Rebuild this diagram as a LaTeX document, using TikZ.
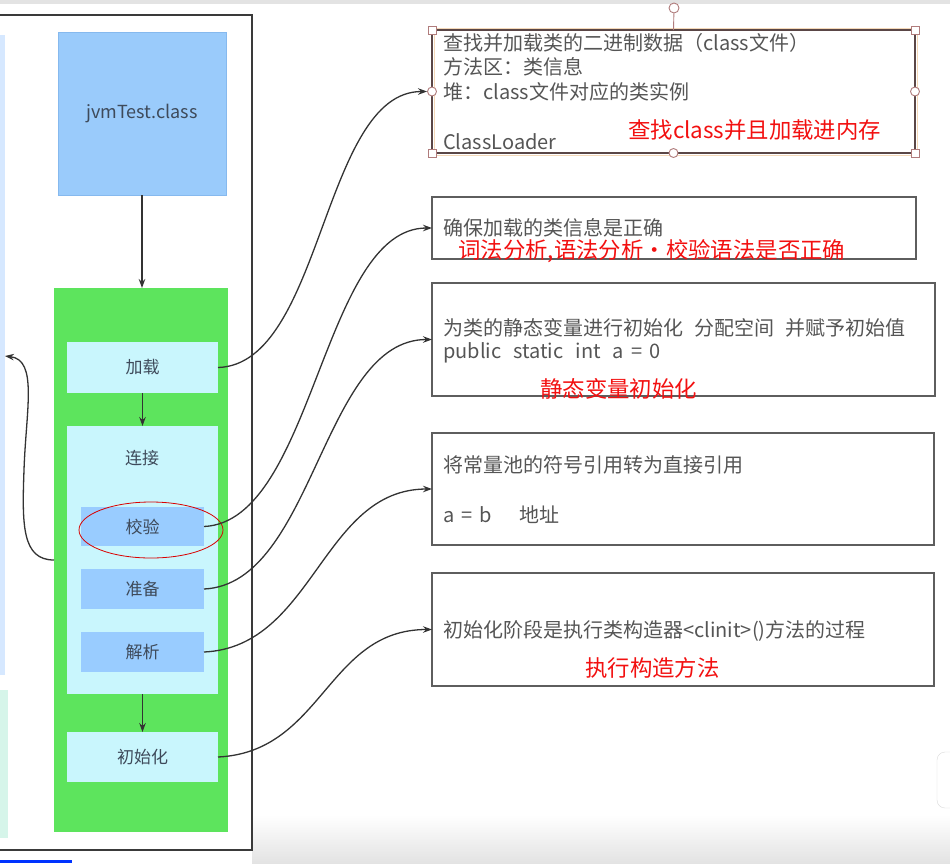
\documentclass[tikz,border=0pt]{standalone}
\usepackage{fontspec}
\setmainfont{Noto Sans CJK SC}
\usetikzlibrary{arrows.meta,calc}
\definecolor{jvmblue}{HTML}{9ACBFB}
\definecolor{jvmborder}{HTML}{86B9EE}
\definecolor{greenbg}{HTML}{5DE45D}
\definecolor{cyanl}{HTML}{C9F6FD}
\definecolor{subblue}{HTML}{99CCFF}
\definecolor{lefttext}{HTML}{3E4A5A}
\definecolor{desc}{HTML}{555555}
\definecolor{boxgray}{HTML}{5E5E5E}
\definecolor{sel}{HTML}{5A4646}
\definecolor{selhandle}{HTML}{B07C7C}
\definecolor{selorange}{HTML}{F4D8B8}
\definecolor{redc}{HTML}{F21010}
\definecolor{conncol}{HTML}{333333}
\definecolor{frame}{HTML}{3A3A3A}
\definecolor{leftblue}{HTML}{D6E8FF}
\definecolor{mint}{HTML}{D6F5EA}
\begin{document}
\begin{tikzpicture}[x=1pt,y=-1pt]
\tikzset{
  plain/.style={inner sep=0pt, outer sep=0pt, anchor=north west},
  stagebox/.style={plain, fill=cyanl, text=lefttext, font=\fontsize{17}{20}\selectfont},
  subbox/.style={plain, fill=subblue, text=lefttext, font=\fontsize{17}{20}\selectfont},
  descbox/.style={plain, draw=boxgray, line width=1.8pt},
  desctext/.style={anchor=west, inner sep=0pt, text=desc, font=\fontsize{20}{24}\selectfont},
  redtext/.style={anchor=west, inner sep=0pt, text=redc, font=\fontsize{22.4}{26}\selectfont},
  conn/.style={draw=conncol, line width=1.3pt, -{Stealth[length=9pt,width=6.5pt]}},
  hsq/.style={draw=selhandle, fill=white, line width=0.9pt, minimum size=8pt, inner sep=0pt},
  hcirc/.style={draw=selhandle, fill=white, line width=0.9pt, circle, minimum size=10pt, inner sep=0pt}
}
\useasboundingbox (0,0) rectangle (950,863);
% screen chrome
\fill[gray!22] (0,0) rectangle (950,4);
\shade[top color=white, bottom color=gray!22] (252,815) rectangle (950,863);
\fill[leftblue] (0,35) rectangle (5,675);
\fill[mint] (0,690) rectangle (8,838);
\fill[blue!80!cyan] (0,860) rectangle (72,863);
\draw[gray!30, fill=white, rounded corners=8pt] (937,752) rectangle (965,808);
% outer frame
\draw[frame, line width=1.6pt] (-2,15) -- (252,15) -- (252,850) -- (-2,850);

% left column
\node[plain, fill=jvmblue, draw=jvmborder, line width=0.6pt, minimum width=168pt, minimum height=163pt,
      text=lefttext, font=\fontsize{18}{21}\selectfont] (jvm) at (58,32) {jvmTest.class};
\node[plain, fill=greenbg, minimum width=174pt, minimum height=544pt] (green) at (54,288) {};
\node[stagebox, minimum width=151pt, minimum height=51pt] (jz) at (67,342) {加载};
\node[stagebox, minimum width=151pt, minimum height=268pt] (lj) at (67,426) {};
\node[anchor=center, inner sep=0pt, text=lefttext, font=\fontsize{17}{20}\selectfont] (ljt) at (142,458) {连接};
\node[subbox, minimum width=123pt, minimum height=39pt] (jy) at (81,507) {校验};
\node[subbox, minimum width=123pt, minimum height=40pt] (zb) at (81,569) {准备};
\node[subbox, minimum width=123pt, minimum height=40pt] (jx) at (81,632) {解析};
\node[stagebox, minimum width=151pt, minimum height=50pt] (csh) at (67,732) {初始化};
\draw[red!85!black, line width=0.8pt] (151,530) ellipse [x radius=72, y radius=28];

\draw[conn] (jvm.south) -- (jvm.south |- green.north);
\draw[conn] (jz.south) -- (lj.north);
\draw[conn] (lj.south) -- (csh.north);
\coordinate (loopend) at (5,356);
\draw[conn] (green.west) .. controls (22,560) and (22,525) .. (24,470) .. controls (26,410) and (38,360) .. (loopend);

% right description boxes
\draw[selorange, line width=0.8pt] (434,28) rectangle (917,155);
\node[descbox, draw=sel, minimum width=483pt, minimum height=123pt] (b1) at (432,30) {};
\node[descbox, minimum width=484pt, minimum height=62pt] (b2) at (432,197) {};
\node[descbox, minimum width=503pt, minimum height=113pt] (b3) at (432,283) {};
\node[descbox, minimum width=502pt, minimum height=112pt] (b4) at (432,433) {};
\node[descbox, minimum width=502pt, minimum height=113pt] (b5) at (432,573) {};

% selection handles of b1
\node[hcirc] (htop) at (674,8) {};
\draw[selhandle, line width=0.9pt] (htop) -- (b1.north);
\node[hsq] (hnw) at (b1.north west) {};
\node[hsq] (hne) at (b1.north east) {};
\node[hsq] (hsw) at (b1.south west) {};
\node[hsq] (hse) at (b1.south east) {};
\node[hcirc, minimum size=9pt] (hw) at (b1.west) {};
\node[hcirc, minimum size=9pt] (he) at (b1.east) {};
\node[hcirc, minimum size=9pt] (hs) at (b1.south) {};

% texts
\node[desctext] (t11) at (443,43) {查找并加载类的二进制数据（class文件）};
\node[desctext] (t12) at (443,67) {方法区：类信息};
\node[desctext] (t13) at (443,92) {堆：class文件对应的类实例};
\node[desctext] (t14) at (443,142) {ClassLoader};
\node[redtext] (r1) at (628,130) {查找class并且加载进内存};

\node[desctext] (t21) at (443,228) {确保加载的类信息是正确};
\node[redtext] (r2) at (458,251) {词法分析,语法分析・校验语法是否正确};

\node[desctext] (t31) at (443,328) {为类的静态变量进行初始化\hspace{11pt}分配空间\hspace{11pt}并赋予初始值};
\node[desctext] (t32) at (443,353) {public\hspace{12pt}static\hspace{12pt}int\hspace{12pt}a\hspace{7pt}=\hspace{7pt}0};
\node[redtext] (r3) at (540,389) {静态变量初始化};

\node[desctext] (t41) at (443,465) {将常量池的符号引用转为直接引用};
\node[desctext] (t42) at (443,515) {a\hspace{7pt}=\hspace{7pt}b\hspace{28pt}地址};

\node[desctext] (t51) at (443,631) {初始化阶段是执行类构造器<clinit>()方法的过程};
\node[redtext] (r5) at (585,668) {执行构造方法};

% connectors
\draw[conn] (jz.east) .. controls +(105,-3) and +(-105,0) .. (hw.west);
\draw[conn] (jy.east) .. controls +(110,-5) and +(-110,0) .. (b2.west);
\draw[conn] (zb.east) .. controls +(110,-5) and +(-110,0) .. (b3.west);
\draw[conn] (jx.east) .. controls +(110,-5) and +(-110,0) .. (b4.west);
\draw[conn] (csh.east) .. controls +(105,-5) and +(-105,0) .. (b5.west);
\end{tikzpicture}
\end{document}
